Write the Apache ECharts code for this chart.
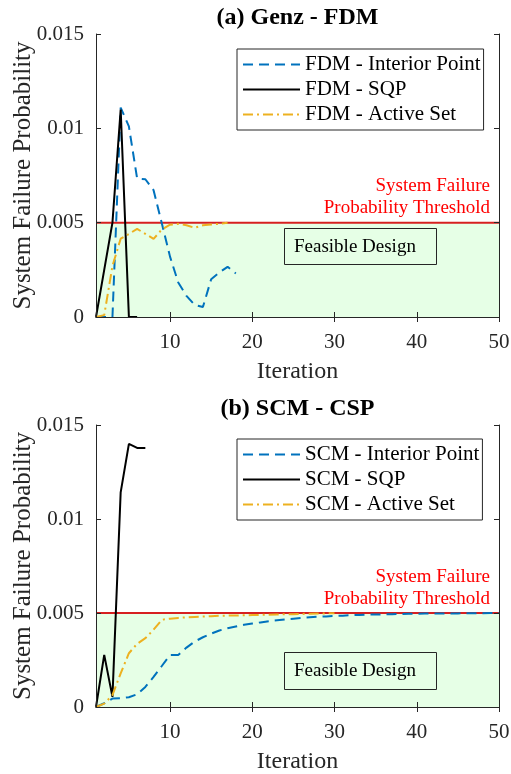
<!DOCTYPE html>
<html>
<head>
<meta charset="utf-8">
<script src="https://cdn.jsdelivr.net/npm/echarts@6/dist/echarts.min.js"></script>
<style>
html,body{margin:0;padding:0;background:#fff;}
#c{width:511px;height:774px;}
</style>
</head>
<body>
<div id="c"></div>
<script>
// ---------- data ----------
const xRange = [1, 50];
const xTicks = [10, 20, 30, 40, 50];
const yTicks = [0, 0.005, 0.01, 0.015];
const threshold = 0.005;

const panelTitles = ['(a) Genz - FDM', '(b) SCM - CSP'];
const namesFDM = ['FDM - Interior Point', 'FDM - SQP', 'FDM - Active Set'];
const namesSCM = ['SCM - Interior Point', 'SCM - SQP', 'SCM - Active Set'];

// values start at iteration 1
const fdmIP = [0, 0, 0, 0.0111, 0.0101, 0.00734, 0.0073, 0.00672, 0.00497, 0.0032,
  0.00183, 0.00112, 0.00064, 0.00053, 0.0020, 0.00236, 0.00266, 0.00231];
const fdmSQP = [0, 0.0025, 0.005, 0.011, 0, 0];
const fdmAS = [0, 0.0001, 0.0027, 0.00415, 0.0044, 0.00467, 0.00441, 0.00414, 0.00464,
  0.00489, 0.00494, 0.00486, 0.00473, 0.00486, 0.0049, 0.00494, 0.005];

const scmIP = [0, 0.0002, 0.00045, 0.00047, 0.00052, 0.00068, 0.00107, 0.0016, 0.00218, 0.00277,
  0.00277, 0.00316, 0.00348, 0.00371, 0.0039, 0.00407, 0.00419, 0.00428, 0.00437, 0.00444,
  0.0045, 0.00456, 0.00461, 0.00466, 0.0047, 0.00474, 0.00477, 0.0048, 0.00482, 0.00484,
  0.00486, 0.00488, 0.0049, 0.00491, 0.00492, 0.00493, 0.00494, 0.00495, 0.00496, 0.00496,
  0.00497, 0.00497, 0.00498, 0.00498, 0.00498, 0.00499, 0.00499, 0.00499, 0.005, 0.005];
const scmSQP = [0, 0.00277, 0.00054, 0.01142, 0.0140, 0.01378, 0.01378];
const scmAS = [0, 0.00018, 0.00063, 0.00179, 0.00286, 0.00336, 0.00366, 0.00411, 0.00464, 0.0047,
  0.00474, 0.00477, 0.00479, 0.00481, 0.00483, 0.00485, 0.00486, 0.00487, 0.00488, 0.00489,
  0.0049, 0.00491, 0.00492, 0.00493, 0.00494, 0.00495, 0.00496, 0.00497, 0.00498, 0.00499];

// ---------- styling ----------
const FONT = 'Liberation Serif';
const AX = '#262626';
const BLUE = '#0072BD', YEL = '#EDB120', BLK = '#000000';
const GREEN = '#e6ffe6';
const RED = '#d62020';

const pairs = a => a.map((v, i) => [i + 1, v]);

function xAxes(gi) {
  const base = {
    gridIndex: gi, type: 'value', min: xRange[0], max: xRange[1], z: 10,
    axisLine: { show: true, lineStyle: { color: AX, width: 1 } },
    axisTick: { show: true, inside: true, length: 5, customValues: xTicks, lineStyle: { color: AX } },
    splitLine: { show: false }
  };
  return [
    Object.assign({}, base, {
      position: 'bottom',
      axisLabel: { customValues: xTicks, fontFamily: FONT, fontSize: 21, color: AX, margin: 15 },
      name: 'Iteration', nameLocation: 'middle', nameGap: 43, nameMoveOverlap: false,
      nameTextStyle: { fontFamily: FONT, fontSize: 24, color: AX }
    }),
    Object.assign({}, base, { position: 'top', axisLabel: { show: false } })
  ];
}
function yAxes(gi) {
  const base = {
    gridIndex: gi, type: 'value', min: yTicks[0], max: yTicks[yTicks.length - 1],
    interval: yTicks[1] - yTicks[0], z: 10,
    axisLine: { show: true, lineStyle: { color: AX, width: 1 } },
    axisTick: { show: true, inside: true, length: 5, lineStyle: { color: AX } },
    splitLine: { show: false }
  };
  return [
    Object.assign({}, base, {
      position: 'left',
      axisLabel: { fontFamily: FONT, fontSize: 21, color: AX, margin: 12,
        formatter: v => String(+v.toFixed(4)) },
      name: 'System Failure Probability', nameLocation: 'middle', nameGap: 60, nameMoveOverlap: false,
      nameTextStyle: { fontFamily: FONT, fontSize: 25, color: AX }
    }),
    Object.assign({}, base, { position: 'right', axisLabel: { show: false } })
  ];
}

function feasibleArea(gi) {
  return {
    type: 'line', xAxisIndex: gi * 2, yAxisIndex: gi * 2, data: [], z: 1, silent: true,
    markArea: { silent: true, itemStyle: { color: GREEN, opacity: 1 },
      data: [[{ xAxis: xRange[0], yAxis: yTicks[0] }, { xAxis: xRange[1], yAxis: threshold }]] }
  };
}
function thresholdLine(gi) {
  return {
    type: 'line', xAxisIndex: gi * 2, yAxisIndex: gi * 2, silent: true, z: 2,
    data: [[xRange[0], threshold], [xRange[1], threshold]],
    symbol: 'none', lineStyle: { color: RED, width: 2, type: 'solid' }
  };
}
function lineSeries(gi, name, arr, color, type, width) {
  return {
    type: 'line', name, xAxisIndex: gi * 2, yAxisIndex: gi * 2, data: pairs(arr),
    symbol: 'none', z: 3, animation: false,
    lineStyle: { color, width, type }, itemStyle: { color }
  };
}
const DASH = [10, 6], DASHDOT = [10, 4, 2, 4];

function legend(names, top) {
  return {
    data: names, orient: 'vertical', left: 237, top,
    backgroundColor: '#fff', borderColor: AX, borderWidth: 1, borderRadius: 0,
    padding: [3, 3, 3, 5], itemWidth: 57, itemHeight: 14, itemGap: 0,
    itemStyle: { opacity: 0, borderWidth: 0 },
    textStyle: { fontFamily: FONT, fontSize: 21, color: '#000', lineHeight: 25 }
  };
}

const graphics = [];
function addPanel(title, titleY, redY1, boxTop, boxH) {
  graphics.push({ type: 'text', z: 100, style: { x: 297.5, y: titleY, text: title,
    font: 'bold 24px "' + FONT + '"', fill: '#000', align: 'center', verticalAlign: 'middle' } });
  graphics.push({ type: 'text', z: 100, style: { x: 490, y: redY1, text: 'System Failure',
    font: '19px "' + FONT + '"', fill: '#ff0000', align: 'right', verticalAlign: 'middle' } });
  graphics.push({ type: 'text', z: 100, style: { x: 490, y: redY1 + 22.5, text: 'Probability Threshold',
    font: '19px "' + FONT + '"', fill: '#ff0000', align: 'right', verticalAlign: 'middle' } });
  graphics.push({ type: 'rect', z: 100, shape: { x: 284.5, y: boxTop + 0.5, width: 152, height: boxH },
    style: { fill: GREEN, stroke: AX, lineWidth: 1 } });
  graphics.push({ type: 'text', z: 101, style: { x: 294, y: boxTop + boxH / 2 + 1, text: 'Feasible Design',
    font: '19px "' + FONT + '"', fill: '#000', align: 'left', verticalAlign: 'middle' } });
}
addPanel(panelTitles[0], 18, 186, 228, 36);
addPanel(panelTitles[1], 409, 577, 652, 37);

const option = {
  animation: false,
  backgroundColor: '#fff',
  grid: [
    { left: 96, right: 12, top: 34, height: 283, outerBoundsMode: 'none', containLabel: false },
    { left: 96, right: 12, top: 425, height: 282, outerBoundsMode: 'none', containLabel: false }
  ],
  xAxis: [...xAxes(0), ...xAxes(1)],
  yAxis: [...yAxes(0), ...yAxes(1)],
  legend: [legend(namesFDM, 49), legend(namesSCM, 439)],
  series: [
    feasibleArea(0),
    thresholdLine(0),
    lineSeries(0, namesFDM[0], fdmIP, BLUE, DASH, 2),
    lineSeries(0, namesFDM[1], fdmSQP, BLK, 'solid', 2),
    lineSeries(0, namesFDM[2], fdmAS, YEL, DASHDOT, 2),
    feasibleArea(1),
    thresholdLine(1),
    lineSeries(1, namesSCM[0], scmIP, BLUE, DASH, 2),
    lineSeries(1, namesSCM[1], scmSQP, BLK, 'solid', 2),
    lineSeries(1, namesSCM[2], scmAS, YEL, DASHDOT, 2)
  ],
  graphic: graphics
};

const chart = echarts.init(document.getElementById('c'), null, { renderer: 'canvas' });
chart.setOption(option);
</script>
</body>
</html>
